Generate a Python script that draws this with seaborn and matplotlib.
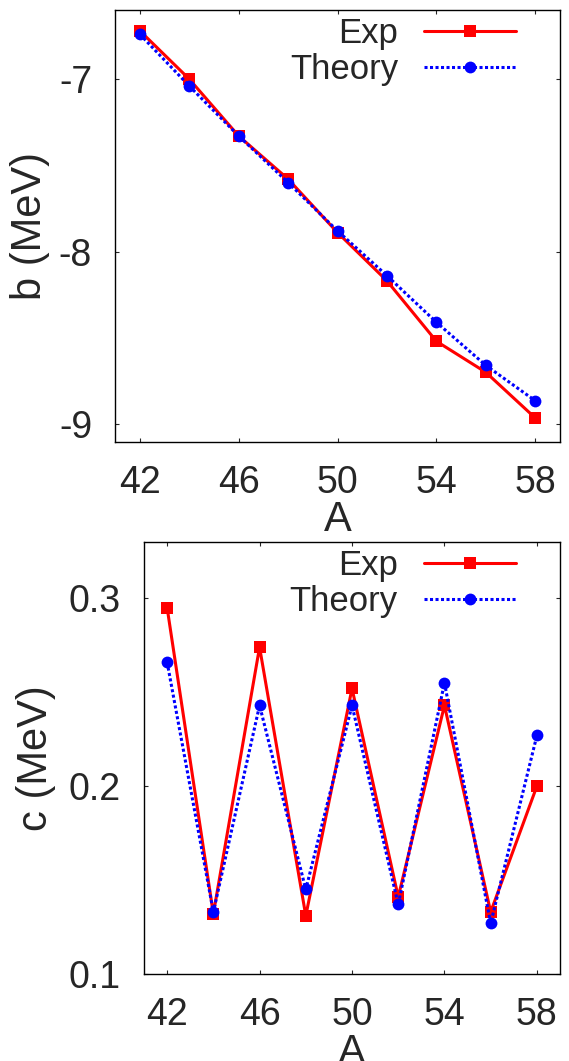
import matplotlib
matplotlib.use("Agg")
import matplotlib.pyplot as plt
import seaborn as sns

# data
A = [42, 44, 46, 48, 50, 52, 54, 56, 58]
b_exp = [-6.72, -7.00, -7.33, -7.58, -7.89, -8.17, -8.52, -8.70, -8.965]
b_theory = [-6.74, -7.04, -7.33, -7.60, -7.88, -8.14, -8.41, -8.66, -8.865]
c_exp = [0.295, 0.132, 0.274, 0.131, 0.252, 0.141, 0.243, 0.133, 0.200]
c_theory = [0.266, 0.133, 0.243, 0.145, 0.243, 0.137, 0.255, 0.127, 0.227]

x_ticks = [42, 46, 50, 54, 58]
b_ticks = [-7, -8, -9]
c_ticks = [0.1, 0.2, 0.3]

sns.set_style("ticks")
plt.rcParams["font.family"] = ["Liberation Sans", "DejaVu Sans"]
plt.rcParams["axes.unicode_minus"] = False
plt.rcParams["xtick.direction"] = "in"
plt.rcParams["ytick.direction"] = "in"
plt.rcParams["xtick.top"] = True
plt.rcParams["ytick.right"] = True
plt.rcParams["axes.linewidth"] = 1.0
plt.rcParams["axes.edgecolor"] = "black"

fig = plt.figure(figsize=(5.69, 10.61), dpi=100)
ax1 = fig.add_axes([0.2021, 0.5834, 0.7821, 0.4072])
ax2 = fig.add_axes([0.2531, 0.0820, 0.7311, 0.4072])


def draw(ax, y_exp, y_theory, ylabel, yticks, ylim, legend_x, ylabelpad, xlabelpad):
    sns.lineplot(x=A, y=y_exp, ax=ax, color="#ff0000", marker="s",
                 markersize=8.5, markeredgewidth=0, linewidth=2.2, label="Exp")
    sns.lineplot(x=A, y=y_theory, ax=ax, color="#0000ff", marker="o",
                 markersize=8.5, markeredgewidth=0, linewidth=2.2,
                 linestyle=(0, (1, 0.8)), label="Theory")
    ax.set_xlim(41, 59)
    ax.set_ylim(*ylim)
    ax.set_xticks(x_ticks)
    ax.set_xticklabels([str(t) for t in x_ticks])
    ax.set_yticks(yticks)
    ax.set_yticklabels([str(t) for t in yticks])
    ax.tick_params(axis="both", labelsize=27, length=3, width=0.8, pad=16.5,
                   direction="in", top=True, right=True)
    ax.set_xlabel("A", fontsize=30, labelpad=xlabelpad)
    ax.set_ylabel(ylabel, fontsize=30, labelpad=ylabelpad)
    ax.legend(loc="upper right", bbox_to_anchor=(legend_x, 0.984),
              frameon=False, markerfirst=False, fontsize=25,
              handlelength=2.65, handletextpad=0.75, labelspacing=0.1,
              borderpad=0, borderaxespad=0)


draw(ax1, b_exp, b_theory, "b (MeV)", b_ticks, (-9.104, -6.60), 0.901, 6, -1)
draw(ax2, c_exp, c_theory, "c (MeV)", c_ticks, (0.1, 0.33), 0.894, 9, 0)

fig.savefig("out.png", dpi=100)
